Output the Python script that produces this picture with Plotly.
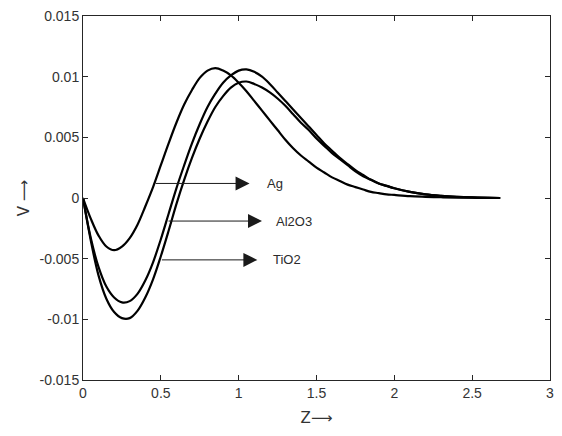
import plotly.graph_objects as go

z = [0, 0.05, 0.1, 0.15, 0.2, 0.25, 0.3, 0.35, 0.4, 0.45, 0.5, 0.55, 0.6, 0.65, 0.7,
     0.75, 0.8, 0.85, 0.9, 0.95, 1.0, 1.05, 1.1, 1.15, 1.2, 1.25, 1.3, 1.35, 1.4, 1.45,
     1.5, 1.55, 1.6, 1.65, 1.7, 1.75, 1.8, 1.85, 1.9, 1.95, 2.0, 2.1, 2.2, 2.3, 2.4,
     2.5, 2.6, 2.68]

v_ag = [0, -0.0017, -0.0031, -0.0040, -0.0043, -0.0040, -0.0033, -0.0022, -0.0007, 0.0009,
        0.0027, 0.0045, 0.0062, 0.0077, 0.0089, 0.0099, 0.0105, 0.0107, 0.0105, 0.0101,
        0.0095, 0.0088, 0.0080, 0.0072, 0.0064, 0.0056, 0.0048, 0.0041, 0.0035, 0.0030,
        0.0025, 0.0021, 0.0017, 0.0014, 0.0011, 0.0009, 0.0007, 0.0005, 0.0004, 0.0003,
        0.00025, 0.00015, 0.0001, 0.00006, 0.00003, 0.00002, 0.00001, 0]

v_al2o3 = [0, -0.0033, -0.0057, -0.0073, -0.0082, -0.0086, -0.0085, -0.0079, -0.0068, -0.0053,
           -0.0034, -0.0013, 0.0008, 0.0027, 0.0045, 0.0061, 0.0075, 0.0086, 0.0095, 0.0101,
           0.0105, 0.0106, 0.0104, 0.0100, 0.0094, 0.0087, 0.0080, 0.0073, 0.0066, 0.0059,
           0.0052, 0.0045, 0.0039, 0.0033, 0.0028, 0.0023, 0.0019, 0.0015, 0.0012, 0.0010,
           0.0008, 0.0005, 0.0003, 0.00018, 0.0001, 0.00005, 0.00002, 0]

v_tio2 = [0, -0.0035, -0.0064, -0.0083, -0.0094, -0.0099, -0.0099, -0.0093, -0.0082, -0.0067,
          -0.0048, -0.0027, -0.0005, 0.0015, 0.0033, 0.0049, 0.0063, 0.0075, 0.0084, 0.0091,
          0.0095, 0.0096, 0.0094, 0.0091, 0.0087, 0.0082, 0.0076, 0.0069, 0.0062, 0.0056,
          0.0049, 0.0043, 0.0037, 0.0032, 0.0027, 0.0022, 0.0018, 0.0015, 0.0012, 0.0010,
          0.0008, 0.0005, 0.0003, 0.00018, 0.0001, 0.00005, 0.00002, 0]

labels = ["Ag", "Al2O3", "TiO2"]
arrow_tail_x = [0.457, 0.54, 0.497]
arrow_y = [0.0012, -0.0019, -0.0051]
arrow_head_x = [1.07, 1.15, 1.12]
label_x = [1.17, 1.23, 1.21]

xticks = [0, 0.5, 1, 1.5, 2, 2.5, 3]
xtick_text = ["0", "0.5", "1", "1.5", "2", "2.5", "3"]
yticks = [-0.015, -0.01, -0.005, 0, 0.005, 0.01, 0.015]
ytick_text = ["-0.015", "-0.01", "-0.005", "0", "0.005", "0.01", "0.015"]

FONT = "Liberation Sans, Arial, DejaVu Sans"
TXT = "#2b2b2b"

fig = go.Figure()
for name, v in zip(labels, [v_ag, v_al2o3, v_tio2]):
    fig.add_trace(go.Scatter(x=z, y=v, mode="lines", name=name,
                             line=dict(color="black", width=2.2, shape="spline", smoothing=1.0)))

for lab, tx, ay, hx, lx in zip(labels, arrow_tail_x, arrow_y, arrow_head_x, label_x):
    fig.add_annotation(x=hx, y=ay, ax=tx, ay=ay, xref="x", yref="y", axref="x", ayref="y",
                       text="", showarrow=True, arrowhead=2, arrowsize=2.8, arrowwidth=1,
                       arrowcolor="#1a1a1a")
    fig.add_annotation(x=lx, y=ay, xref="x", yref="y", text=lab, showarrow=False,
                       xanchor="left", yanchor="middle",
                       font=dict(family=FONT, size=13, color=TXT))

axis_common = dict(showgrid=False, zeroline=False, showline=True, mirror="ticks",
                   linecolor="#262626", linewidth=1, ticks="inside", ticklen=5,
                   tickcolor="#262626", tickwidth=1,
                   tickfont=dict(family=FONT, size=14, color="#333333"))

fig.update_layout(
    width=562, height=436,
    margin=dict(l=83, r=8, t=10, b=56),
    paper_bgcolor="white", plot_bgcolor="white",
    showlegend=False,
    xaxis=dict(range=[0, 3], tickvals=xticks, ticktext=xtick_text,
               title=dict(text="Z\u27f6", font=dict(family="DejaVu Sans", size=15, color="#333333"), standoff=12),
               **axis_common),
    yaxis=dict(range=[-0.015, 0.015], tickvals=yticks, ticktext=ytick_text,
               title=dict(text="V \u27f6", font=dict(family="DejaVu Sans", size=15, color="#333333"), standoff=6),
               **axis_common),
)

fig.write_html("out.html")
